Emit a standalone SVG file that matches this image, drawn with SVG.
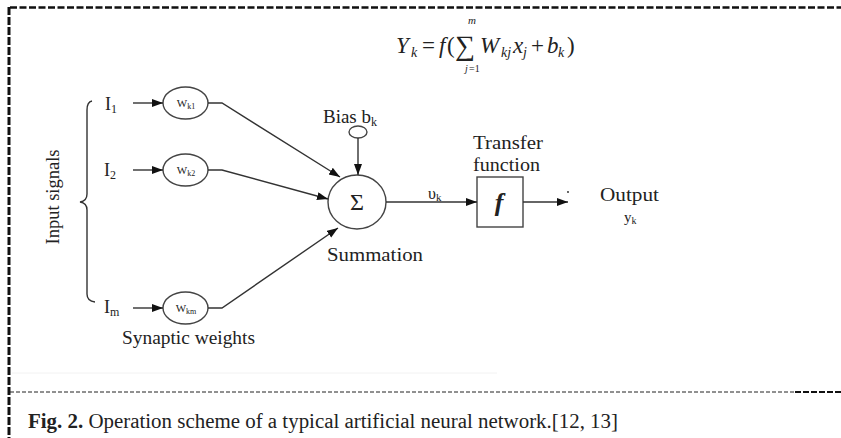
<svg xmlns="http://www.w3.org/2000/svg" width="841" height="438" viewBox="0 0 841 438">
<style>
.t{font-family:"Liberation Serif","DejaVu Serif","Times New Roman",serif;fill:#222}
.ln{stroke:#333;stroke-width:1.4;fill:none}
.nd{stroke:#444;stroke-width:1.4;fill:#fff}
</style>
<defs>
<marker id="ah" markerUnits="userSpaceOnUse" markerWidth="12" markerHeight="10" refX="11" refY="4" orient="auto">
<path d="M0,0 L11,4 L0,8 Z" fill="#111"/>
</marker>
</defs>
<rect width="841" height="438" fill="#fff"/>
<g id="border">
<line x1="10" y1="7.5" x2="841" y2="7.5" stroke="#111" stroke-width="2.5" stroke-dasharray="7 2.5"/>
<line x1="9" y1="7" x2="9" y2="438" stroke="#111" stroke-width="3" stroke-dasharray="8 2"/>
<line x1="10" y1="392" x2="795" y2="392" stroke="#222" stroke-width="1" stroke-dasharray="4 2"/>
<line x1="795" y1="392" x2="841" y2="392" stroke="#111" stroke-width="2" stroke-dasharray="6 2"/>
<line x1="12" y1="373" x2="497" y2="373" stroke="#f2f2f2" stroke-width="1"/>
</g>
<g id="formula" class="t" font-size="23">
<text x="396" y="53" font-style="italic">Y</text>
<text x="411" y="57" font-style="italic" font-size="14">k</text>
<text x="422" y="53">=</text>
<text x="439" y="53" font-style="italic">f</text>
<text x="447" y="53">(</text>
<text x="455" y="55" font-size="28">∑</text>
<text x="468" y="24" font-style="italic" font-size="11">m</text>
<text x="465" y="72" font-style="italic" font-size="10">j</text>
<text x="469" y="72" font-size="10">=1</text>
<text x="480" y="53" font-style="italic">W</text>
<text x="501" y="57" font-style="italic" font-size="14">kj</text>
<text x="513" y="53" font-style="italic">x</text>
<text x="523" y="57" font-style="italic" font-size="14">j</text>
<text x="531" y="53">+</text>
<text x="547" y="53" font-style="italic">b</text>
<text x="558" y="57" font-style="italic" font-size="14">k</text>
<text x="567" y="53">)</text>
</g>
<g id="input-signals">
<path class="ln" d="M92,101 Q87,102 87,110 L87,194 Q87,201 80,202 Q87,203 87,210 L87,294 Q87,301 95,302" stroke-width="1.2"/>
<text class="t" font-size="18" transform="translate(59,197) rotate(-90)" text-anchor="middle" textLength="95" lengthAdjust="spacingAndGlyphs">Input signals</text>
</g>
<g id="I1"><text class="t" x="105" y="110" font-size="18">I<tspan font-size="12" dy="3">1</tspan></text></g>
<g id="I2"><text class="t" x="104" y="176" font-size="18">I<tspan font-size="12" dy="3">2</tspan></text></g>
<g id="Im"><text class="t" x="104" y="313" font-size="18">I<tspan font-size="12" dy="3">m</tspan></text></g>
<g id="wk1"><ellipse class="nd" cx="185.5" cy="103" rx="22.5" ry="16"/><text class="t" x="186" y="107" font-size="11" text-anchor="middle">W<tspan font-size="8" dy="2">k1</tspan></text></g>
<g id="wk2"><ellipse class="nd" cx="185.5" cy="170" rx="22.5" ry="16"/><text class="t" x="186" y="174" font-size="11" text-anchor="middle">W<tspan font-size="8" dy="2">k2</tspan></text></g>
<g id="wkm"><ellipse class="nd" cx="185.5" cy="308" rx="22.5" ry="16"/><text class="t" x="186" y="312" font-size="11" text-anchor="middle">W<tspan font-size="8" dy="2">km</tspan></text></g>
<g id="synaptic"><text class="t" x="122" y="344" font-size="18" textLength="133" lengthAdjust="spacingAndGlyphs">Synaptic weights</text></g>
<g id="bias"><ellipse class="nd" cx="358" cy="132" rx="9" ry="6"/><text class="t" x="323" y="123" font-size="18" textLength="48" lengthAdjust="spacingAndGlyphs">Bias b</text><text class="t" x="371" y="126" font-size="12">k</text></g>
<g id="summation"><ellipse class="nd" cx="357" cy="202" rx="29" ry="27"/><text class="t" x="357" y="210" font-size="24" text-anchor="middle">Σ</text><text class="t" x="327" y="261" font-size="18" textLength="96" lengthAdjust="spacingAndGlyphs">Summation</text></g>
<g id="transfer"><rect class="nd" x="477" y="177" width="46" height="50"/><text class="t" x="499" y="211" font-size="26" font-style="italic" font-weight="bold" text-anchor="middle">f</text><text class="t" x="473" y="149" font-size="18" textLength="70" lengthAdjust="spacingAndGlyphs">Transfer</text><text class="t" x="473" y="171" font-size="18" textLength="67" lengthAdjust="spacingAndGlyphs">function</text></g>
<g id="output"><text class="t" x="600" y="201" font-size="18" textLength="59" lengthAdjust="spacingAndGlyphs">Output</text><text class="t" x="624" y="222" font-size="15">y<tspan font-size="10" dy="2">k</tspan></text><circle cx="568" cy="192" r="0.9" fill="#222"/></g>
<g id="connectors">
<line class="ln" x1="133" y1="103" x2="163" y2="103" marker-end="url(#ah)"/>
<line class="ln" x1="133" y1="170" x2="163" y2="170" marker-end="url(#ah)"/>
<line class="ln" x1="133" y1="308" x2="163" y2="308" marker-end="url(#ah)"/>
<polyline class="ln" points="208,103 222,103 340,177" marker-end="url(#ah)"/>
<polyline class="ln" points="208,170 222,170 328,199" marker-end="url(#ah)"/>
<polyline class="ln" points="208,308 222,308 338,228" marker-end="url(#ah)"/>
<line class="ln" x1="358" y1="138" x2="358" y2="175" marker-end="url(#ah)"/>
<line class="ln" x1="386" y1="202" x2="477" y2="202" marker-end="url(#ah)"/>
<text class="t" x="428" y="199" font-size="16">υ<tspan font-size="11" dy="2">k</tspan></text>
<line class="ln" x1="523" y1="202" x2="568" y2="202" marker-end="url(#ah)"/>
</g>
<g id="caption"><text class="t" x="28" y="428" font-size="20" fill="#111" textLength="590" lengthAdjust="spacingAndGlyphs"><tspan font-weight="bold">Fig. 2.</tspan> Operation scheme of a typical artificial neural network.[12, 13]</text></g>
</svg>
